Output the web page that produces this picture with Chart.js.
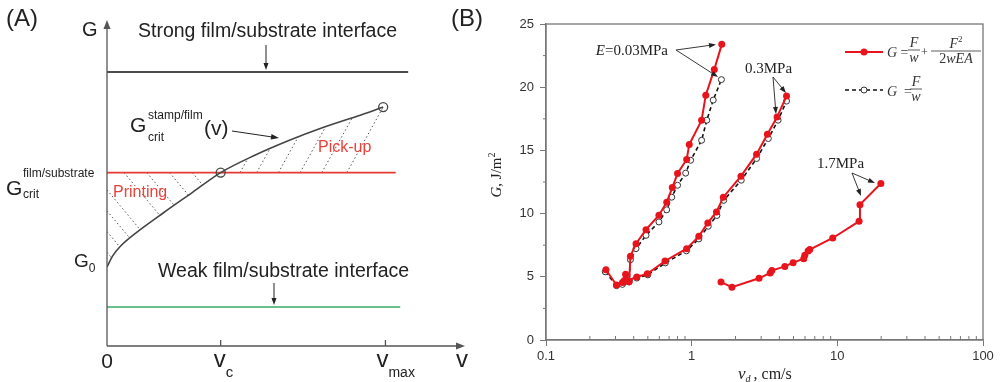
<!DOCTYPE html>
<html>
<head>
<meta charset="utf-8">
<script src="https://cdn.jsdelivr.net/npm/chart.js@4.4.1/dist/chart.umd.min.js"></script>
<style>
html, body { margin: 0; padding: 0; background: #fff; }
#wrap { position: relative; width: 1001px; height: 382px; overflow: hidden; }
#boxA { position: absolute; left: 0; top: 0; width: 500px; height: 382px; }
#boxB { position: absolute; left: 440px; top: 0; width: 561px; height: 382px; }
</style>
</head>
<body>
<div id="wrap">
  <div id="boxA"><canvas id="chartA" width="500" height="382"></canvas></div>
  <div id="boxB"><canvas id="chartB" width="561" height="382"></canvas></div>
</div>
<script>
// ---------- panel (A) : schematic, unit v = v_c, unit G = G_crit(film/substrate)
const A_V_MAX = 2.45;
const A_G_STRONG = 1.58;
const A_G_CRIT = 1.0;
const A_G_WEAK = 0.225;
const A_LINE_END = [2.65, 2.54, 2.58];          // strong, crit, weak
const A_CURVE_V = [0, 0.05, 0.12, 0.25, 0.5, 0.75, 1, 1.3, 1.6, 1.9, 2.2, 2.43];
const A_CURVE_G = [0.456, 0.52, 0.577, 0.65, 0.77, 0.885, 1, 1.10, 1.185, 1.26, 1.325, 1.378];
const A_CIRCLES_V = [1, 2.43];
const A_CIRCLES_G = [1, 1.378];
// hatch segments [v0, g0, v1, g1]
const A_HATCH_PRINT = [
  [0, 0.9, 0.2925, 0.67], [0, 0.78, 0.201, 0.622], [0, 0.66, 0.113, 0.571], [0, 0.54, 0.041, 0.508],
  [0.15, 1, 0.465, 0.753], [0.35, 1, 0.59, 0.812], [0.55, 1, 0.7165, 0.87], [0.75, 1, 0.8426, 0.928]
];
const A_HATCH_PICK = [
  [1.17, 1, 1.237, 1.079], [1.317, 1, 1.434, 1.138], [1.508, 1, 1.682, 1.2055],
  [1.699, 1, 1.924, 1.265], [1.89, 1, 2.158, 1.316], [2.11, 1, 2.43, 1.378]
];

// ---------- panel (B) : G vs v_d
const VD_E003 = [0.258, 0.305, 0.345, 0.352, 0.372, 0.38, 0.415, 0.486, 0.596, 0.674, 0.736, 0.80, 0.924, 0.963, 1.17, 1.25, 1.43, 1.61];
const G_E003 = [5.56, 4.35, 4.7, 5.2, 4.6, 6.62, 7.62, 8.73, 9.87, 10.9, 12.06, 13.17, 14.28, 15.47, 17.39, 19.37, 21.41, 23.39];
const VD_E003_FW = [0.255, 0.305, 0.345, 0.372, 0.38, 0.415, 0.486, 0.596, 0.674, 0.73, 0.80, 0.91, 0.984, 1.17, 1.27, 1.406, 1.60];
const G_E003_FW = [5.4, 4.3, 4.6, 4.6, 6.35, 7.23, 8.28, 9.34, 10.3, 11.3, 12.24, 13.2, 14.22, 15.8, 17.39, 18.98, 20.6];
const VD_E03 = [0.335, 0.42, 0.496, 0.656, 0.924, 1.12, 1.29, 1.48, 1.65, 2.18, 2.79, 3.31, 3.86, 4.48];
const G_E03 = [4.55, 4.98, 5.24, 6.25, 7.22, 8.2, 9.26, 10.13, 11.3, 12.96, 14.7, 16.28, 17.65, 19.3];
const VD_E03_FW = [0.335, 0.42, 0.5, 0.66, 0.92, 1.12, 1.3, 1.49, 1.66, 2.19, 2.79, 3.36, 3.92, 4.48];
const G_E03_FW = [4.4, 4.9, 5.15, 6.1, 7.05, 8.0, 9.0, 9.85, 11.05, 12.64, 14.36, 15.94, 17.39, 18.9];
const VD_E17 = [1.59, 1.89, 2.9, 3.46, 3.55, 4.36, 4.97, 5.88, 5.98, 6.3, 6.47, 9.3, 14.1, 14.3, 19.9];
const G_E17 = [4.58, 4.18, 4.88, 5.3, 5.5, 5.82, 6.12, 6.43, 6.7, 7.04, 7.15, 8.07, 9.39, 10.71, 12.38];
const X_TICKS = [0.1, 1, 10, 100];
const Y_TICKS = [0, 5, 10, 15, 20, 25];

const SANS = '"Liberation Sans", Arial, sans-serif';
const SERIF = '"Liberation Serif", "Times New Roman", serif';
const RED = '#e8141c';

function pts(xs, ys) { return xs.map((x, i) => ({ x: x, y: ys[i] })); }

// 文字片段依次绘制
function runs(ctx, list, x, y) {
  let cx = x;
  list.forEach(r => {
    ctx.font = r.f;
    ctx.fillText(r.t, cx, y + (r.dy || 0));
    cx += ctx.measureText(r.t).width + (r.gap || 0);
  });
  return cx - x;
}
function runsWidth(ctx, list) {
  let w = 0;
  list.forEach(r => { ctx.font = r.f; w += ctx.measureText(r.t).width + (r.gap || 0); });
  return w;
}
function arrow(ctx, x0, y0, x1, y1, len, half) {
  const a = Math.atan2(y1 - y0, x1 - x0);
  ctx.beginPath(); ctx.moveTo(x0, y0); ctx.lineTo(x1 - Math.cos(a) * len * 0.6, y1 - Math.sin(a) * len * 0.6); ctx.stroke();
  ctx.beginPath();
  ctx.moveTo(x1, y1);
  ctx.lineTo(x1 - len * Math.cos(a) + half * Math.sin(a), y1 - len * Math.sin(a) - half * Math.cos(a));
  ctx.lineTo(x1 - len * Math.cos(a) - half * Math.sin(a), y1 - len * Math.sin(a) + half * Math.cos(a));
  ctx.closePath(); ctx.fill();
}

// ---------- chart A
function hatchSet(s) {
  return { data: [{ x: s[0], y: s[1] }, { x: s[2], y: s[3] }], borderColor: '#555', borderWidth: 1,
    borderDash: [1.5, 2.5], pointRadius: 0, tension: 0 };
}
function hLine(g, end, color) {
  return { data: [{ x: 0, y: g }, { x: end, y: g }], borderColor: color, borderWidth: 1.6, pointRadius: 0 };
}

const decorA = {
  id: 'decorA',
  afterDatasetsDraw(chart) {
    const ctx = chart.ctx, xs = chart.scales.x, ys = chart.scales.y;
    const X = v => xs.getPixelForValue(v), Y = g => ys.getPixelForValue(g);
    ctx.save();
    ctx.strokeStyle = '#555'; ctx.fillStyle = '#555'; ctx.lineWidth = 1.3;
    // 坐标轴
    arrow(ctx, X(0), Y(0), X(0), chart.chartArea.top, 9, 3.5);
    arrow(ctx, X(0), Y(0), chart.chartArea.right, Y(0), 9, 3.5);
    [1, A_V_MAX].forEach(v => { ctx.beginPath(); ctx.moveTo(X(v), Y(0)); ctx.lineTo(X(v), Y(0) - 6); ctx.stroke(); });

    ctx.fillStyle = '#222';
    ctx.textBaseline = 'alphabetic';
    ctx.textAlign = 'center';
    ctx.font = '21px ' + SANS;
    ctx.fillText('0', X(0), 368);
    ctx.textAlign = 'left';
    runs(ctx, [{ t: 'v', f: '24px ' + SANS }, { t: 'c', f: '15px ' + SANS, dy: 10 }], X(1) - 7, 367);
    runs(ctx, [{ t: 'v', f: '24px ' + SANS }, { t: 'max', f: '14px ' + SANS, dy: 10 }], X(A_V_MAX) - 9, 367);
    runs(ctx, [{ t: 'v', f: '24px ' + SANS }], chart.chartArea.right - 9, 367);
    runs(ctx, [{ t: 'G', f: '20px ' + SANS }], 82, 36);
    runs(ctx, [{ t: '(A)', f: '24px ' + SANS }], 6, 26);

    ctx.font = '19.5px ' + SANS;
    ctx.fillText('Strong film/substrate interface', 138, 37);
    ctx.fillText('Weak film/substrate interface', 158, 277);
    ctx.fillStyle = '#222'; ctx.strokeStyle = '#222'; ctx.lineWidth = 1;
    arrow(ctx, 266, 45, 266, Y(A_G_STRONG) - 2, 7, 2.5);
    arrow(ctx, 274, 283, 274, Y(A_G_WEAK) - 2, 7, 2.5);

    // G_crit^film/substrate
    runs(ctx, [{ t: 'G', f: '21px ' + SANS }], 6, 195);
    runs(ctx, [{ t: 'film/substrate', f: '12px ' + SANS }], 23, 177);
    runs(ctx, [{ t: 'crit', f: '12px ' + SANS }], 23, 198);
    // G_0
    runs(ctx, [{ t: 'G', f: '19px ' + SANS }, { t: '0', f: '12px ' + SANS, dy: 5 }], 74, 267);
    // G_crit^stamp/film (v)
    runs(ctx, [{ t: 'G', f: '21px ' + SANS }], 130, 132);
    runs(ctx, [{ t: 'stamp/film', f: '12px ' + SANS }], 148, 119);
    runs(ctx, [{ t: 'crit', f: '12px ' + SANS }], 148, 141);
    runs(ctx, [{ t: '(v)', f: '21px ' + SANS }], 204, 135);
    arrow(ctx, 232, 131, 279, 138, 8, 2.8);

    ctx.fillStyle = '#e8433a';
    ctx.font = '16px ' + SANS;
    ctx.fillText('Pick-up', 318, 152);
    ctx.fillText('Printing', 113, 197);
    ctx.restore();
  }
};

new Chart(document.getElementById('chartA'), {
  type: 'line',
  data: {
    datasets: [
      { data: pts(A_CIRCLES_V, A_CIRCLES_G), showLine: false, pointRadius: 4.5, pointBorderColor: '#444',
        pointBackgroundColor: 'rgba(255,255,255,0)', pointBorderWidth: 1.3 },
      { data: pts(A_CURVE_V, A_CURVE_G), borderColor: '#444', borderWidth: 1.6, pointRadius: 0,
        cubicInterpolationMode: 'monotone' },
      hLine(A_G_STRONG, A_LINE_END[0], '#111'),
      hLine(A_G_CRIT, A_LINE_END[1], '#e53935'),
      hLine(A_G_WEAK, A_LINE_END[2], '#3aaa66'),
      ...A_HATCH_PRINT.map(hatchSet),
      ...A_HATCH_PICK.map(hatchSet)
    ]
  },
  options: {
    responsive: false, animation: false,
    layout: { padding: { left: 107, right: 35, top: 20, bottom: 36 } },
    plugins: { legend: { display: false }, tooltip: { enabled: false } },
    scales: {
      x: { type: 'linear', min: 0, max: 3.15, display: false },
      y: { type: 'linear', min: 0, max: 1.88, display: false }
    }
  },
  plugins: [decorA]
});

// ---------- chart B
const decorB = {
  id: 'decorB',
  afterDatasetsDraw(chart) {
    const ctx = chart.ctx, a = chart.chartArea, xs = chart.scales.x, ys = chart.scales.y;
    const O = 440; // canvas offset
    ctx.save();
    ctx.strokeStyle = '#777'; ctx.lineWidth = 1.3;
    ctx.strokeRect(a.left, a.top, a.right - a.left, a.bottom - a.top);
    // 次刻度
    ctx.lineWidth = 1;
    [0.1, 1, 10].forEach(d => {
      for (let k = 2; k <= 9; k++) {
        const x = xs.getPixelForValue(d * k);
        ctx.beginPath(); ctx.moveTo(x, a.bottom); ctx.lineTo(x, a.bottom - 4); ctx.stroke();
      }
    });
    for (let g = 2.5; g < 25; g += 5) {
      const y = ys.getPixelForValue(g);
      ctx.beginPath(); ctx.moveTo(a.left, y); ctx.lineTo(a.left - 3, y); ctx.stroke();
    }

    ctx.fillStyle = '#222';
    ctx.textAlign = 'left'; ctx.textBaseline = 'alphabetic';
    runs(ctx, [{ t: '(B)', f: '24px ' + SANS }], 451 - O, 26);

    // y 轴标题
    const yt = [{ t: 'G', f: 'italic 15px ' + SERIF }, { t: ', J/m', f: '15px ' + SERIF },
      { t: '2', f: '10px ' + SERIF, dy: -6 }];
    ctx.save();
    ctx.translate(501 - O, 175);
    ctx.rotate(-Math.PI / 2);
    runs(ctx, yt, -runsWidth(ctx, yt) / 2, 0);
    ctx.restore();
    // x 轴标题
    runs(ctx, [{ t: 'v', f: 'italic 17px ' + SERIF }, { t: 'd', f: 'italic 10px ' + SERIF, dy: 3, gap: 3 },
      { t: ', cm/s', f: '16px ' + SERIF }], 738 - O, 379);

    // 标注
    ctx.fillStyle = '#222'; ctx.strokeStyle = '#222'; ctx.lineWidth = 0.9;
    const e1 = [{ t: 'E', f: 'italic 15px ' + SERIF }, { t: '=0.03MPa', f: '15px ' + SERIF }];
    runs(ctx, e1, 668 - O - runsWidth(ctx, e1), 55);
    runs(ctx, [{ t: '0.3MPa', f: '15px ' + SERIF }], 745 - O, 73);
    runs(ctx, [{ t: '1.7MPa', f: '15px ' + SERIF }], 817 - O, 168);
    arrow(ctx, 676 - O, 50, 716 - O, 44.5, 7, 2.5);
    arrow(ctx, 676 - O, 50, 718 - O, 77, 7, 2.5);
    arrow(ctx, 773 - O, 77, 786 - O, 93, 7, 2.5);
    arrow(ctx, 773 - O, 77, 776 - O, 114, 7, 2.5);
    arrow(ctx, 852 - O, 173, 875 - O, 183, 7, 2.5);
    arrow(ctx, 852 - O, 173, 861 - O, 196, 7, 2.5);

    // 图例
    ctx.strokeStyle = RED; ctx.lineWidth = 2;
    ctx.beginPath(); ctx.moveTo(845 - O, 52); ctx.lineTo(883 - O, 52); ctx.stroke();
    ctx.fillStyle = RED;
    ctx.beginPath(); ctx.arc(864 - O, 52, 3.5, 0, Math.PI * 2); ctx.fill();
    ctx.strokeStyle = '#111'; ctx.lineWidth = 1.6; ctx.setLineDash([4, 3]);
    ctx.beginPath(); ctx.moveTo(845 - O, 90); ctx.lineTo(883 - O, 90); ctx.stroke();
    ctx.setLineDash([]);
    ctx.fillStyle = '#fff'; ctx.strokeStyle = '#333'; ctx.lineWidth = 1;
    ctx.beginPath(); ctx.arc(864 - O, 90, 3, 0, Math.PI * 2); ctx.fill(); ctx.stroke();

    const it = 'italic 14px ' + SERIF, rm = '14px ' + SERIF;
    ctx.fillStyle = '#333'; ctx.strokeStyle = '#333'; ctx.lineWidth = 0.8;
    const frac = (num, den, cx, yb, half) => {
      ctx.textAlign = 'left';
      runs(ctx, num, cx - runsWidth(ctx, num) / 2, yb - 9);
      runs(ctx, den, cx - runsWidth(ctx, den) / 2, yb + 6);
      ctx.beginPath(); ctx.moveTo(cx - half, yb - 6); ctx.lineTo(cx + half, yb - 6); ctx.stroke();
    };
    runs(ctx, [{ t: 'G', f: it }, { t: ' = ', f: rm }], 887 - O, 57);
    frac([{ t: 'F', f: it }], [{ t: 'w', f: it }], 914 - O, 56, 6);
    runs(ctx, [{ t: '+', f: '12px ' + SERIF }], 921 - O, 56);
    frac([{ t: 'F', f: it }, { t: '2', f: '9px ' + SERIF, dy: -6 }],
      [{ t: '2', f: rm }, { t: 'wEA', f: it }], 956 - O, 57, 25);
    runs(ctx, [{ t: 'G', f: it }, { t: '  =  ', f: rm }], 887 - O, 96);
    frac([{ t: 'F', f: it }], [{ t: 'w', f: it }], 916 - O, 95, 6);
    ctx.restore();
  }
};

function redSet(xs, ys) {
  return { data: pts(xs, ys), borderColor: RED, backgroundColor: RED, borderWidth: 2, pointRadius: 3.5,
    pointBorderWidth: 0, pointBackgroundColor: RED, tension: 0 };
}
function blackSet(xs, ys) {
  return { data: pts(xs, ys), borderColor: '#111', borderWidth: 1.6, borderDash: [4, 3], pointRadius: 3,
    pointBorderWidth: 1, pointBorderColor: '#333', pointBackgroundColor: '#fff', tension: 0 };
}

new Chart(document.getElementById('chartB'), {
  type: 'line',
  data: {
    datasets: [
      redSet(VD_E003, G_E003), redSet(VD_E03, G_E03), redSet(VD_E17, G_E17),
      blackSet(VD_E003_FW, G_E003_FW), blackSet(VD_E03_FW, G_E03_FW)
    ]
  },
  options: {
    responsive: false, animation: false,
    layout: { padding: { left: 0, right: 18, top: 24, bottom: 0 } },
    plugins: { legend: { display: false }, tooltip: { enabled: false } },
    scales: {
      x: {
        type: 'logarithmic', min: 0.1, max: 100,
        afterBuildTicks: s => { s.ticks = X_TICKS.map(v => ({ value: v })); },
        afterFit: s => { s.height = 42; },
        ticks: { callback: v => String(v), color: '#333', font: { family: SANS, size: 13 }, padding: 3,
          autoSkip: false, maxRotation: 0 },
        grid: { drawOnChartArea: false, tickLength: 6, color: '#777' },
        border: { display: true, color: '#777', width: 1.3 }
      },
      y: {
        type: 'linear', min: 0, max: 25,
        afterBuildTicks: s => { s.ticks = Y_TICKS.map(v => ({ value: v })); },
        afterFit: s => { s.width = 106; },
        ticks: { color: '#333', font: { family: SANS, size: 13 }, padding: 6 },
        grid: { drawOnChartArea: false, tickLength: 6, color: '#777' },
        border: { display: true, color: '#777', width: 1.3 }
      }
    }
  },
  plugins: [decorB]
});
</script>
</body>
</html>
